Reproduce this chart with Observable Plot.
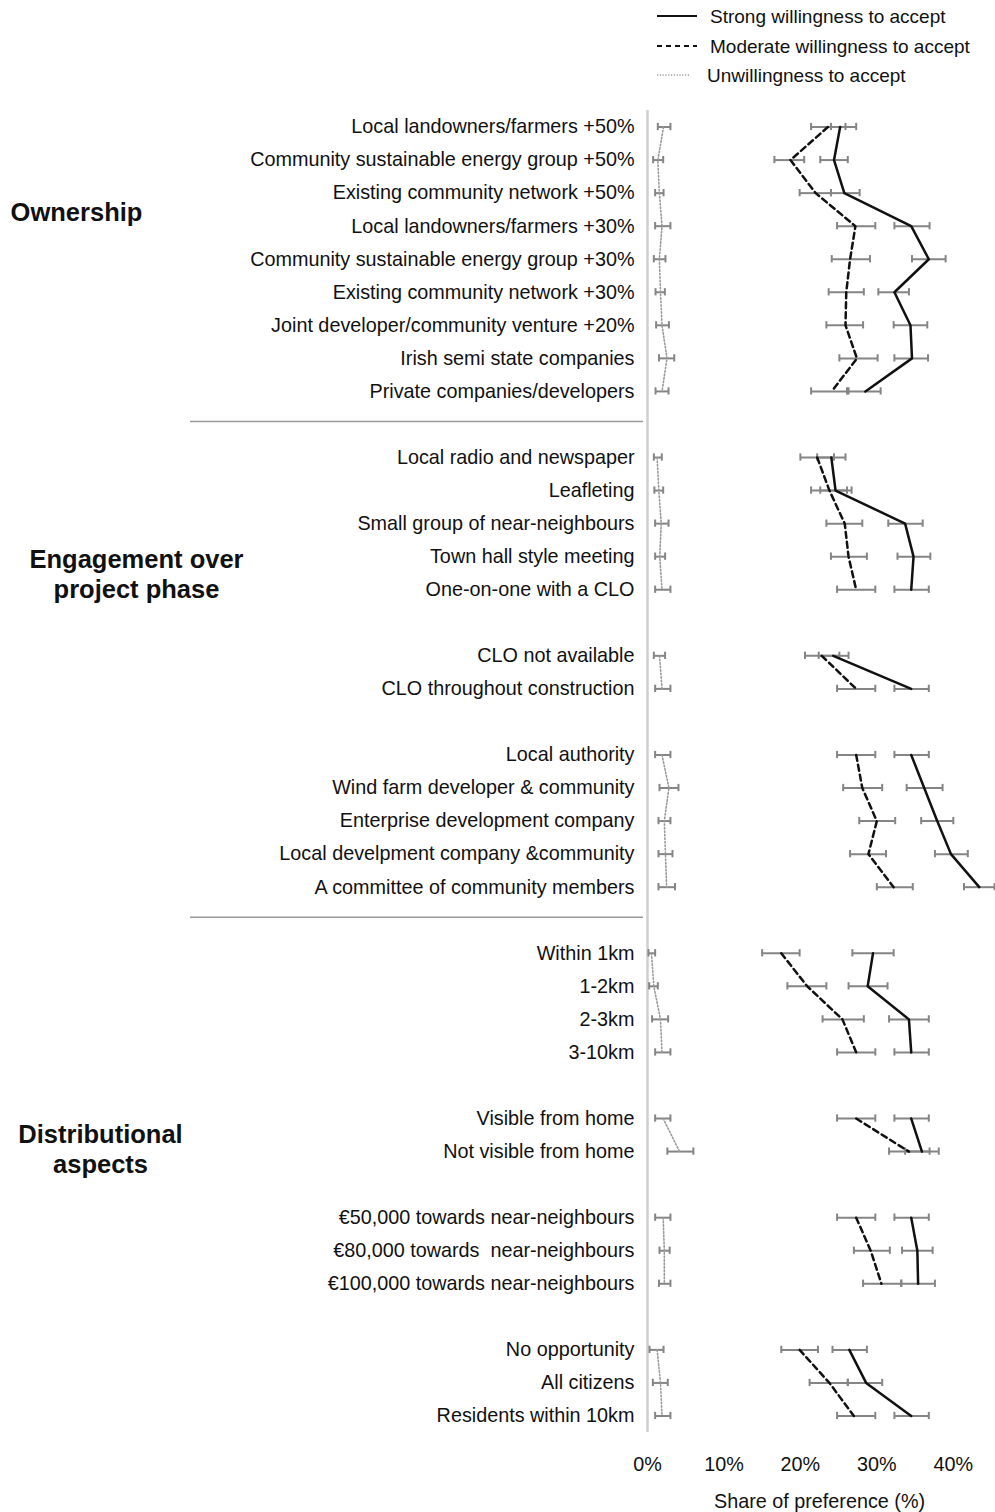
<!DOCTYPE html>
<html>
<head>
<meta charset="utf-8">
<script src="https://cdn.jsdelivr.net/npm/d3@7"></script>
<script src="https://cdn.jsdelivr.net/npm/@observablehq/plot@0.6"></script>
<style>
  html, body { margin: 0; padding: 0; background: #fff; }
  body { width: 995px; font-family: 'Liberation Sans', Arial, sans-serif; }
</style>
</head>
<body>
<div id="legend"></div>
<div id="chart"></div>
<script>
// ---- categories (blank strings are the gaps between groups) ----
const categories = [
  "Local landowners/farmers +50%",
  "Community sustainable energy group +50%",
  "Existing community network +50%",
  "Local landowners/farmers +30%",
  "Community sustainable energy group +30%",
  "Existing community network +30%",
  "Joint developer/community venture +20%",
  "Irish semi state companies",
  "Private companies/developers",
  "",
  "Local radio and newspaper",
  "Leafleting",
  "Small group of near-neighbours",
  "Town hall style meeting",
  "One-on-one with a CLO",
  "",
  "CLO not available",
  "CLO throughout construction",
  "",
  "Local authority",
  "Wind farm developer & community",
  "Enterprise development company",
  "Local develpment company &community",
  "A committee of community members",
  "",
  "Within 1km",
  "1-2km",
  "2-3km",
  "3-10km",
  "",
  "Visible from home",
  "Not visible from home",
  "",
  "€50,000 towards near-neighbours",
  "€80,000 towards  near-neighbours",
  "€100,000 towards near-neighbours",
  "",
  "No opportunity",
  "All citizens",
  "Residents within 10km"
];

// ---- series values (%), null at gap rows ----
const strongEst = [25.2,24.4,25.75,34.5,36.8,32.3,34.4,34.6,28.5,null,24.05,24.6,33.7,34.8,34.5,null,24.3,34.5,null,34.5,36.2,37.9,39.7,43.4,null,29.5,28.8,34.2,34.5,null,34.5,35.9,null,34.5,35.3,35.4,null,26.4,28.6,34.5];
const strongLo  = [24.0,22.6,24.0,32.3,34.6,30.2,32.2,32.3,26.3,null,22.2,22.6,31.5,32.7,32.3,null,22.4,32.3,null,32.3,33.9,35.8,37.6,41.4,null,26.8,26.3,31.6,32.3,null,32.3,33.7,null,32.3,33.3,33.2,null,24.2,26.2,32.3];
const strongHi  = [27.3,26.2,27.75,36.9,39.0,34.2,36.6,36.7,30.5,null,25.9,26.7,36.0,37.0,36.8,null,26.3,36.8,null,36.8,38.6,40.0,41.9,45.4,null,32.2,31.4,36.8,36.8,null,36.8,38.1,null,36.8,37.3,37.6,null,28.7,30.7,36.8];

const moderateEst = [23.6,18.7,22.0,27.2,26.5,26.0,25.9,27.4,24.1,null,22.2,23.8,25.8,26.3,27.3,null,22.8,27.3,null,27.3,28.1,30.0,28.9,32.2,null,17.5,20.9,25.5,27.3,null,27.3,34.2,null,27.3,29.2,30.6,null,19.9,23.8,27.0];
const moderateLo  = [21.4,16.6,19.9,24.8,24.1,23.7,23.4,25.1,21.4,null,20.0,21.4,23.4,24.0,24.8,null,20.6,24.8,null,24.8,25.6,27.7,26.5,30.0,null,15.0,18.3,22.9,24.8,null,24.8,31.6,null,24.8,27.0,28.2,null,17.5,21.2,24.8];
const moderateHi  = [25.9,20.5,24.0,29.8,29.1,28.3,28.2,30.1,26.1,null,24.4,26.1,28.1,28.7,29.8,null,25.1,29.8,null,29.8,30.7,32.4,31.2,34.7,null,19.9,23.4,28.3,29.8,null,29.8,36.9,null,29.8,31.7,33.2,null,22.3,26.2,29.8];

const unwillingEst = [2.1,1.35,1.55,1.9,1.55,1.7,1.9,2.55,1.9,null,1.26,1.48,1.8,1.6,1.9,null,1.57,1.9,null,1.9,2.8,2.2,2.35,2.5,null,0.52,0.83,1.7,1.9,null,2.05,4.2,null,2.05,2.2,2.2,null,1.26,1.7,1.9];
const unwillingLo  = [1.35,0.74,1.0,1.0,0.83,1.05,1.13,1.5,1.05,null,0.83,0.9,1.0,1.0,1.0,null,0.83,1.0,null,1.0,1.57,1.44,1.44,1.44,null,0.13,0.22,0.6,1.0,null,1.0,2.6,null,1.0,1.57,1.5,null,0.26,0.7,1.0];
const unwillingHi  = [3.0,2.05,2.1,3.0,2.35,2.27,2.8,3.5,2.75,null,1.87,2.05,2.75,2.3,3.0,null,2.3,3.0,null,3.0,4.05,3.0,3.27,3.6,null,1.0,1.35,2.7,3.0,null,3.0,6.0,null,3.0,2.9,3.0,null,2.1,2.65,3.0];

const seriesNames = ["Strong willingness to accept", "Moderate willingness to accept", "Unwillingness to accept"];
const xTicks = [0, 10, 20, 30, 40];
const groupTitles = [
  {name: "Ownership", row: 2.56},
  {name: "Engagement over\nproject phase", row: 13.5},
  {name: "Distributional\naspects", row: 30.9}
];
const separatorRows = [9, 24];
const axisTitle = "Share of preference (%)";

// ---- styles per series ----
const seriesStyle = [
  {stroke: "#111", strokeWidth: 2.5, dash: null},
  {stroke: "#111", strokeWidth: 2.5, dash: "6,4"},
  {stroke: "#9a9a9a", strokeWidth: 1.6, dash: "1.5,2"}
];

// ---- build tidy table ----
const groupOf = [];
{ let g = 0; categories.forEach((c, i) => { if (c === "") g++; groupOf.push(g); }); }
const seriesArrays = [
  [strongEst, strongLo, strongHi],
  [moderateEst, moderateLo, moderateHi],
  [unwillingEst, unwillingLo, unwillingHi]
];
const rows = [];
seriesArrays.forEach(([e, l, h], s) => {
  categories.forEach((c, i) => {
    if (c === "") return;
    rows.push({series: seriesNames[s], s, row: i, group: groupOf[i], est: e[i], lo: l[i], hi: h[i]});
  });
});
const tickRows = categories.map((c, i) => c === "" ? null : i).filter(i => i !== null);

// ---- legend (HTML/SVG above the plot) ----
{
  const ns = "http://www.w3.org/2000/svg";
  const svg = document.createElementNS(ns, "svg");
  svg.setAttribute("width", 995);
  svg.setAttribute("height", 95);
  svg.style.display = "block";
  const ys = [16, 46, 75];
  seriesNames.forEach((name, i) => {
    const st = seriesStyle[i];
    const line = document.createElementNS(ns, "line");
    line.setAttribute("x1", 657);
    line.setAttribute("x2", i === 2 ? 690 : 697);
    line.setAttribute("y1", ys[i]);
    line.setAttribute("y2", ys[i]);
    line.setAttribute("stroke", st.stroke);
    line.setAttribute("stroke-width", i === 2 ? 1.4 : 2);
    if (st.dash) line.setAttribute("stroke-dasharray", i === 1 ? "5,4" : "1.2,1.6");
    svg.appendChild(line);
    const t = document.createElementNS(ns, "text");
    t.setAttribute("x", i === 2 ? 707 : 710);
    t.setAttribute("y", ys[i]);
    t.setAttribute("dy", "0.35em");
    t.setAttribute("font-size", "19px");
    t.setAttribute("font-family", "'Liberation Sans', Arial, sans-serif");
    t.setAttribute("fill", "#111");
    t.textContent = name;
    svg.appendChild(t);
  });
  document.getElementById("legend").appendChild(svg);
}

// ---- plot ----
const titleDx = [-571, -511, -547];
const chart = Plot.plot({
  width: 995,
  height: 1417,
  marginLeft: 647,
  marginRight: 4,
  marginTop: 15,
  marginBottom: 80,
  x: {domain: [0, 45]},
  y: {domain: [-0.5, 39.5], reverse: true},
  style: {fontFamily: "'Liberation Sans', Arial, sans-serif", fontSize: "19.8px", color: "#111", background: "white", overflow: "visible"},
  marks: [
    Plot.ruleX([0], {stroke: "#cfcfcf", strokeWidth: 2.5}),
    Plot.ruleY(separatorRows, {stroke: "#9a9a9a", strokeWidth: 1.5, dy: -3, insetLeft: -457, insetRight: 348}),
    Plot.axisX({ticks: xTicks, tickFormat: d => d + "%", tickSize: 0, tickPadding: 24, label: null}),
    Plot.axisY({ticks: tickRows, tickFormat: i => categories[i], tickSize: 0, tickPadding: 13, label: null}),
    Plot.text([axisTitle], {text: d => d, frameAnchor: "bottom", dy: 75, fill: "#111"}),
    ...groupTitles.map((g, i) => Plot.text([g], {
      y: "row", text: "name", frameAnchor: "left", dx: titleDx[i],
      textAnchor: "middle", fontWeight: "bold", fontSize: 25.5, lineHeight: 1.18, fill: "#111"
    })),
    // error bars
    Plot.ruleY(rows, {y: "row", x1: "lo", x2: "hi", stroke: "#858585", strokeWidth: 2}),
    Plot.ruleX(rows, {x: "lo", y1: d => d.row - 0.11, y2: d => d.row + 0.11, stroke: "#858585", strokeWidth: 2}),
    Plot.ruleX(rows, {x: "hi", y1: d => d.row - 0.11, y2: d => d.row + 0.11, stroke: "#858585", strokeWidth: 2}),
    // lines
    ...seriesNames.map((name, s) => Plot.line(rows.filter(d => d.s === s), {
      x: "est", y: "row", z: "group",
      stroke: seriesStyle[s].stroke, strokeWidth: seriesStyle[s].strokeWidth,
      strokeDasharray: seriesStyle[s].dash || undefined
    }))
  ]
});
document.getElementById("chart").appendChild(chart);
</script>
</body>
</html>
